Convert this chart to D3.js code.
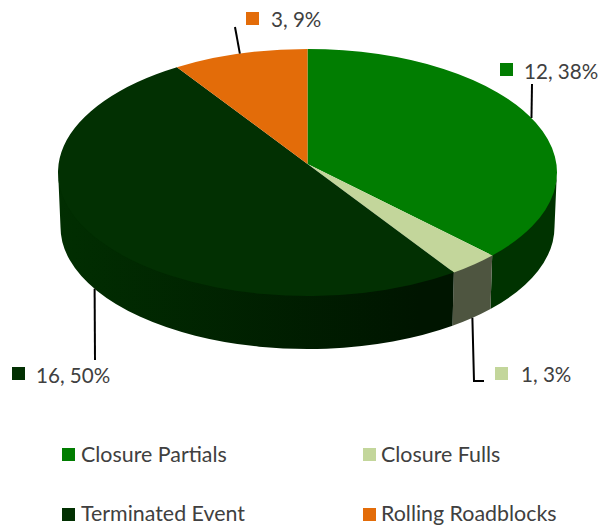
<!DOCTYPE html>
<html>
<head>
<meta charset="utf-8">
<script src="https://cdn.jsdelivr.net/npm/d3@7"></script>
<style>
  html, body { margin: 0; background: #fff; overflow: hidden; }
  svg { display: block; }
  text { font-family: Lato, "Open Sans", sans-serif; fill: #404040; }
  .data-label { font-size: 20.6px; }
  .legend-label { font-size: 21.4px; }
</style>
</head>
<body>
<div id="chart"></div>
<script>
// --- DATA ---
const categories = ["Closure Partials", "Closure Fulls", "Terminated Event", "Rolling Roadblocks"];
const values = [12, 1, 16, 3];
const percents = ["38%", "3%", "50%", "9%"];

// --- STYLE ---
const topColors = ["#017d01", "#c3d69b", "#023002", "#e36c09"];
const sideColors = [
  ["#003300", "#003a00"],
  ["#4e5540", "#4e5540"],
  ["#012e01", "#001500"],
  ["#7a3a05", "#7a3a05"]
];

// --- PIE GEOMETRY ---
const width = 600, height = 525;
const topEllipse = { cx: 307.5, cy: 172.5, rx: 249.5, ry: 123.5 };
const bottomEllipse = { cx: 307.5, cy: 227, rx: 247, ry: 122 };
// wall starts a bit under the top face so no light seam shows between them
const wallEllipse = { ...topEllipse, cy: topEllipse.cy - 3 };
const apex = { x: 307.5, y: 164 };
const tilt = topEllipse.ry / topEllipse.rx;

// Data labels: swatch + text, and the elbow of each leader line
const labelLayout = [
  { sx: 500, sy: 63, tx: 524, ty: 79, leader: [[532, 84]], onSide: false },
  { sx: 495, sy: 367, tx: 521, ty: 382, leader: [[474, 381], [484, 381]], onSide: true },
  { sx: 12, sy: 367, tx: 36, ty: 383, leader: [[95, 360]], onSide: true },
  { sx: 246, sy: 12, tx: 271, ty: 27, leader: [[235, 27]], onSide: false }
];
const legendLayout = [
  { sx: 62, sy: 448, tx: 81, ty: 462 },
  { sx: 363, sy: 448, tx: 381, ty: 462 },
  { sx: 62, sy: 508, tx: 81, ty: 521 },
  { sx: 363, sy: 508, tx: 381, ty: 521 }
];

// Ellipse parameter seen from the apex, which sits above the ellipse centre (perspective)
function ellipseParam(angle) {
  const dx = Math.sin(angle), dy = -Math.cos(angle) * tilt;
  const e = topEllipse;
  const ox = apex.x - e.cx, oy = apex.y - e.cy;
  const a = (dx * dx) / (e.rx * e.rx) + (dy * dy) / (e.ry * e.ry);
  const b = 2 * ((ox * dx) / (e.rx * e.rx) + (oy * dy) / (e.ry * e.ry));
  const c = (ox * ox) / (e.rx * e.rx) + (oy * oy) / (e.ry * e.ry) - 1;
  const s = (-b + Math.sqrt(b * b - 4 * a * c)) / (2 * a);
  const px = (ox + s * dx) / e.rx, py = (oy + s * dy) / e.ry;
  let t = Math.atan2(px, -py);
  if (t < 0) t += 2 * Math.PI;
  // keep the closing edge of the last slice at a full turn
  if (angle > Math.PI && t < Math.PI) t += 2 * Math.PI;
  return t;
}

function pointOn(e, t) {
  return [e.cx + e.rx * Math.sin(t), e.cy - e.ry * Math.cos(t)];
}

function arcTo(e, t0, t1, sweep) {
  const p = pointOn(e, t1);
  const large = Math.abs(t1 - t0) > Math.PI ? 1 : 0;
  return `A${e.rx},${e.ry} 0 ${large} ${sweep} ${p[0]},${p[1]}`;
}

const svg = d3.select("#chart")
  .append("svg")
  .attr("width", width)
  .attr("height", height);

const pie = d3.pie().sort(null);
const slices = pie(values).map((d, i) => ({
  index: i,
  t0: ellipseParam(d.startAngle),
  t1: ellipseParam(d.endAngle),
  mid: ellipseParam((d.startAngle + d.endAngle) / 2)
}));

// --- SIDE WALL ---
const defs = svg.append("defs");
slices.forEach(s => {
  const grad = defs.append("linearGradient")
    .attr("id", `side-${s.index}`)
    .attr("gradientUnits", "userSpaceOnUse")
    .attr("x1", s.index === 2 ? 60 : pointOn(topEllipse, s.t1)[0])
    .attr("x2", s.index === 2 ? 420 : pointOn(topEllipse, s.t0)[0])
    .attr("y1", 0).attr("y2", 0);
  grad.append("stop").attr("offset", 0).attr("stop-color", sideColors[s.index][0]);
  grad.append("stop").attr("offset", 1).attr("stop-color", sideColors[s.index][1]);
});

// only the front half of the wall is visible (90deg to 270deg)
const visible = slices
  .map(s => ({ ...s, a: Math.max(s.t0, Math.PI / 2), b: Math.min(s.t1, 1.5 * Math.PI) }))
  .filter(s => s.b > s.a);

svg.append("g").selectAll("path")
  .data(visible)
  .join("path")
  .attr("fill", d => `url(#side-${d.index})`)
  .attr("d", d => {
    const p0 = pointOn(wallEllipse, d.a);
    const q1 = pointOn(bottomEllipse, d.b);
    return `M${p0[0]},${p0[1]} ${arcTo(wallEllipse, d.a, d.b, 1)} L${q1[0]},${q1[1]} ${arcTo(bottomEllipse, d.b, d.a, 0)} Z`;
  });

// --- TOP FACE ---
svg.append("g").selectAll("path")
  .data(slices)
  .join("path")
  .attr("fill", d => topColors[d.index])
  .attr("d", d => {
    const p0 = pointOn(topEllipse, d.t0);
    return `M${apex.x},${apex.y} L${p0[0]},${p0[1]} ${arcTo(topEllipse, d.t0, d.t1, 1)} Z`;
  });

// --- LEADER LINES ---
const line = d3.line();
svg.append("g").selectAll("path")
  .data(slices)
  .join("path")
  .attr("fill", "none")
  .attr("stroke", "#000")
  .attr("stroke-width", 2)
  .attr("d", d => {
    const l = labelLayout[d.index];
    const start = pointOn(l.onSide ? bottomEllipse : topEllipse, d.mid);
    return line([start, ...l.leader]);
  });

// --- DATA LABELS ---
const labels = svg.append("g").selectAll("g")
  .data(values)
  .join("g");

labels.append("rect")
  .attr("x", (d, i) => labelLayout[i].sx)
  .attr("y", (d, i) => labelLayout[i].sy)
  .attr("width", 13).attr("height", 13)
  .attr("fill", (d, i) => topColors[i]);

labels.append("text")
  .attr("class", "data-label")
  .attr("x", (d, i) => labelLayout[i].tx)
  .attr("y", (d, i) => labelLayout[i].ty)
  .text((d, i) => `${d}, ${percents[i]}`);

// --- LEGEND ---
const legend = svg.append("g").selectAll("g")
  .data(categories)
  .join("g");

legend.append("rect")
  .attr("x", (d, i) => legendLayout[i].sx)
  .attr("y", (d, i) => legendLayout[i].sy)
  .attr("width", 13).attr("height", 13)
  .attr("fill", (d, i) => topColors[i]);

legend.append("text")
  .attr("class", "legend-label")
  .attr("x", (d, i) => legendLayout[i].tx)
  .attr("y", (d, i) => legendLayout[i].ty)
  .text(d => d);
</script>
</body>
</html>
